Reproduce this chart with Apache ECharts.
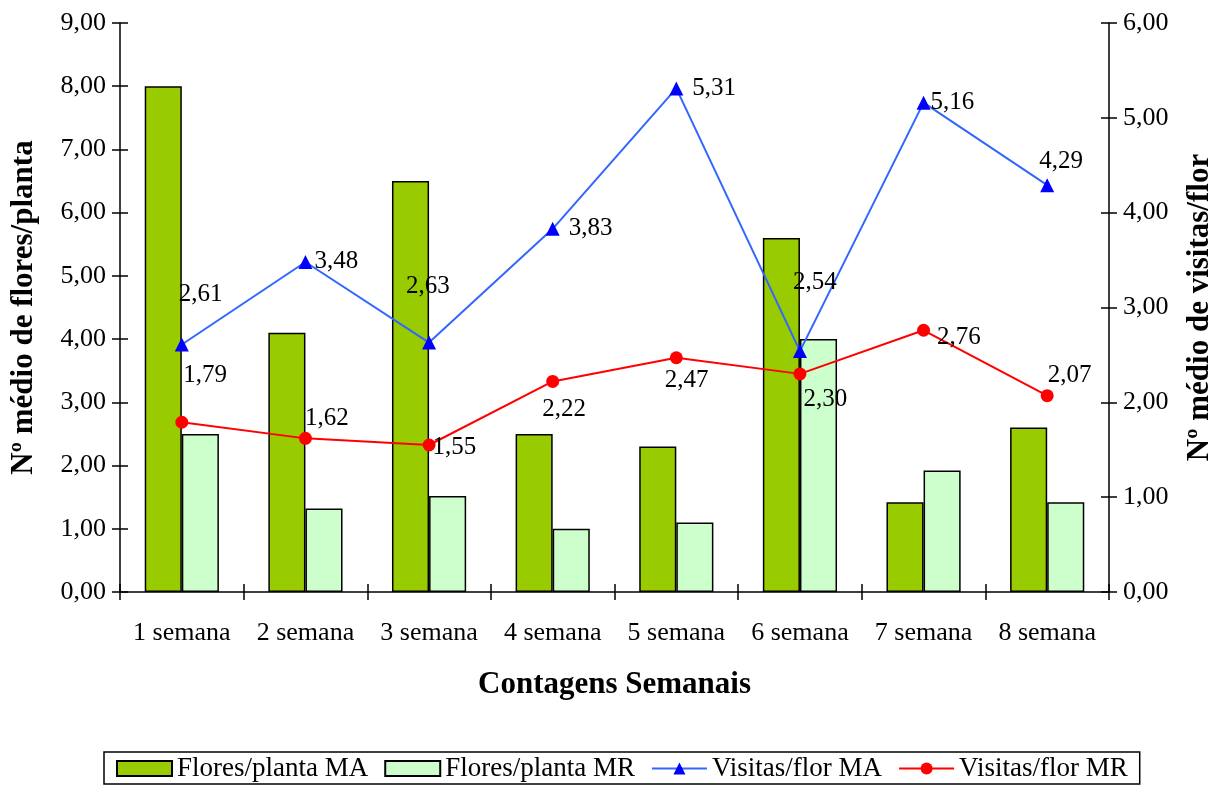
<!DOCTYPE html>
<html>
<head>
<meta charset="utf-8">
<script src="https://cdn.jsdelivr.net/npm/echarts@6/dist/echarts.min.js"></script>
<style>
  html, body { margin: 0; padding: 0; background: #fff; overflow: hidden; }
  #chart { width: 1216px; height: 785px; }
</style>
</head>
<body>
<div id="chart"></div>
<script>
const categories = ['1 semana', '2 semana', '3 semana', '4 semana', '5 semana', '6 semana', '7 semana', '8 semana']
const floresMA = [8.0, 4.1, 6.5, 2.5, 2.3, 5.6, 1.42, 2.6]
const floresMR = [2.5, 1.32, 1.52, 1.0, 1.1, 4.0, 1.92, 1.42]
const visitasMA = [2.61, 3.48, 2.63, 3.83, 5.31, 2.54, 5.16, 4.29]
const visitasMR = [1.79, 1.62, 1.55, 2.22, 2.47, 2.30, 2.76, 2.07]

// label offsets (dx, dy) relative to the default 'right' position
const offsMA = [[-15, -50], [-3, -1], [-35, -56], [4, 0], [4, 0], [-19, -69], [-5, 0], [-20, -24]]
const offsMR = [[-10, -47], [-12, -20], [-8, 2], [-22, 28], [-23, 23], [-8, 26], [2, 7], [-11, -20]]

const FONT = '"Liberation Serif", "Times New Roman", serif'
const fmt = v => v.toFixed(2).replace('.', ',')
const black = { color: '#000', width: 1.5 }
const titleStyle = { fontFamily: FONT, fontSize: 31, fontWeight: 'bold', color: '#000' }

const withLabels = (vals, offs) => vals.map((v, i) => ({
  value: v,
  label: { offset: offs[i] }
}))

// visible axis + a twin with inward ticks so the ticks cross the line
const yAxisPair = (max, pos, name, gap) => [
  {
    type: 'value', min: 0, max: max, interval: 1, position: pos,
    name: name, nameLocation: 'middle', nameRotate: 90, nameGap: gap,
    nameTextStyle: titleStyle,
    axisLine: { show: true, lineStyle: black },
    axisTick: { show: true, length: 8, lineStyle: black },
    axisLabel: { formatter: fmt, margin: 14, fontFamily: FONT, fontSize: 26, color: '#000' },
    splitLine: { show: false }
  },
  {
    type: 'value', min: 0, max: max, interval: 1, position: pos,
    axisLine: { show: false },
    axisTick: { show: true, inside: true, length: 8, lineStyle: black },
    axisLabel: { show: false },
    splitLine: { show: false }
  }
]

const chart = echarts.init(document.getElementById('chart'))
chart.setOption({
  animation: false,
  textStyle: { fontFamily: FONT, color: '#000' },
  grid: { left: 120, right: 107, top: 23, bottom: 193, outerBoundsMode: 'none' },
  legend: {
    left: 104,
    top: 752,
    padding: [3, 12, 2, 12],
    borderColor: '#000',
    borderWidth: 1.5,
    itemWidth: 55,
    itemHeight: 15,
    itemGap: 16,
    textStyle: { fontFamily: FONT, fontSize: 27, color: '#000' },
    data: [
      { name: 'Flores/planta MA', icon: 'rect' },
      { name: 'Flores/planta MR', icon: 'rect' },
      'Visitas/flor MA',
      'Visitas/flor MR'
    ]
  },
  xAxis: [
    {
      type: 'category',
      data: categories,
      name: 'Contagens Semanais',
      nameLocation: 'middle',
      nameGap: 77,
      nameTextStyle: titleStyle,
      axisLine: { lineStyle: black },
      axisTick: { show: true, interval: 0, length: 8, lineStyle: black },
      axisLabel: { interval: 0, margin: 28, fontFamily: FONT, fontSize: 26, color: '#000' },
      splitLine: { show: false }
    },
    {
      type: 'category',
      data: categories,
      position: 'bottom',
      axisLine: { show: false },
      axisTick: { show: true, inside: true, interval: 0, length: 8, lineStyle: black },
      axisLabel: { show: false },
      splitLine: { show: false }
    }
  ],
  yAxis: [
    ...yAxisPair(9, 'left', 'Nº médio de flores/planta', 81),
    ...yAxisPair(6, 'right', 'Nº médio de visitas/flor', 75)
  ],
  series: [
    {
      name: 'Flores/planta MA',
      type: 'bar',
      data: floresMA,
      barWidth: '30%',
      barGap: '0%',
      itemStyle: { color: '#99CC00', borderColor: '#000', borderWidth: 1.5 }
    },
    {
      name: 'Flores/planta MR',
      type: 'bar',
      data: floresMR,
      barWidth: '30%',
      barGap: '0%',
      itemStyle: { color: '#CCFFCC', borderColor: '#000', borderWidth: 1.5 }
    },
    {
      name: 'Visitas/flor MA',
      type: 'line',
      yAxisIndex: 2,
      data: withLabels(visitasMA, offsMA),
      symbol: 'triangle',
      symbolSize: 14,
      lineStyle: { color: '#3366FF', width: 2 },
      itemStyle: { color: '#0000FF' },
      label: {
        show: true,
        position: 'right',
        distance: 5,
        formatter: p => fmt(p.value),
        fontFamily: FONT,
        fontSize: 25,
        color: '#000'
      },
      z: 5
    },
    {
      name: 'Visitas/flor MR',
      type: 'line',
      yAxisIndex: 2,
      data: withLabels(visitasMR, offsMR),
      symbol: 'circle',
      symbolSize: 13,
      lineStyle: { color: '#FF0000', width: 2 },
      itemStyle: { color: '#FF0000' },
      label: {
        show: true,
        position: 'right',
        distance: 5,
        formatter: p => fmt(p.value),
        fontFamily: FONT,
        fontSize: 25,
        color: '#000'
      },
      z: 5
    }
  ]
})
</script>
</body>
</html>
